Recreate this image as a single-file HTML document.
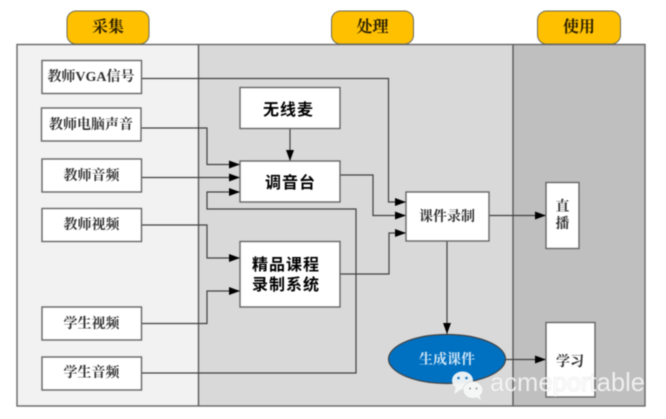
<!DOCTYPE html>
<html>
<head>
<meta charset="utf-8">
<style>
html,body{margin:0;padding:0;background:#fff;width:666px;height:419px;overflow:hidden}
svg{display:block;filter:blur(.45px)}
text{font-family:"Liberation Serif","Noto Serif CJK SC",serif;text-anchor:middle}
.b{fill:#fff;stroke:#666;stroke-width:1.4}
.l{fill:none;stroke:#404040;stroke-width:1.2}
.t{font-size:14px;fill:#333;font-weight:700}
.h{font-size:16px;fill:#000;font-weight:700;letter-spacing:1px;font-family:"Liberation Sans","Noto Sans CJK SC",sans-serif}
.p{font-size:16px;fill:#2b2000;font-weight:700}
</style>
</head>
<body>
<svg width="666" height="419" viewBox="0 0 666 419" xmlns="http://www.w3.org/2000/svg">
<defs>
<marker id="a" markerUnits="userSpaceOnUse" markerWidth="11" markerHeight="9" refX="11" refY="4.500" orient="auto"><path d="M0,0.500 L11,4.500 L0,8.500 Z" fill="#000"/></marker>
<marker id="v" markerUnits="userSpaceOnUse" markerWidth="11" markerHeight="11" refX="11" refY="5.500" orient="auto"><path d="M0,1.500 L11,5.500 L0,9.500 Z" fill="#000"/></marker>
</defs>
<rect x="17" y="44.500" width="181.500" height="361.500" fill="#f2f2f2"/>
<rect x="198.500" y="44.500" width="314.500" height="361.500" fill="#d9d9d9"/>
<rect x="513" y="44.500" width="132" height="361.500" fill="#bfbfbf"/>
<rect x="17" y="44.500" width="628" height="361.500" fill="none" stroke="#666" stroke-width="1.4"/>
<path d="M198.500,44.500V406M513,44.500V406" stroke="#595959" stroke-width="1.4" fill="none"/>

<rect x="67" y="11" width="82" height="33" rx="9" fill="#ffc000" stroke="#6b6b5a" stroke-width="1"/>
<rect x="331.500" y="11" width="82" height="33" rx="9" fill="#ffc000" stroke="#6b6b5a" stroke-width="1"/>
<rect x="537.500" y="11" width="83" height="33" rx="9" fill="#ffc000" stroke="#6b6b5a" stroke-width="1"/>
<text class="p" x="108" y="32">采集</text>
<text class="p" x="372.500" y="32">处理</text>
<text class="p" x="579" y="32">使用</text>

<path class="l" d="M141,78.500H388.500V202H406" marker-end="url(#a)"/>
<path class="l" d="M141,128H207V164.500H240" marker-end="url(#a)"/>
<path class="l" d="M141,177.500H240" marker-end="url(#a)"/>
<path class="l" d="M141,373H356V209H207V192H240" marker-end="url(#a)"/>
<path class="l" d="M340,175H373V215.500H406" marker-end="url(#a)"/>
<path class="l" d="M340,274H389V233H406" marker-end="url(#a)"/>
<path class="l" d="M141,225H207V258H240" marker-end="url(#a)"/>
<path class="l" d="M141,323.500H207V291H240" marker-end="url(#a)"/>
<path class="l" d="M290,128V161" marker-end="url(#v)"/>
<path class="l" d="M489,215.500H546" marker-end="url(#a)"/>
<path class="l" d="M447,241V334" marker-end="url(#v)"/>
<path class="l" d="M505,359.500H546" marker-end="url(#a)"/>

<rect class="b" x="42" y="60.500" width="99.500" height="33"/>
<rect class="b" x="41.500" y="108" width="99.500" height="33"/>
<rect class="b" x="42" y="159" width="99.500" height="33"/>
<rect class="b" x="42" y="208.500" width="99.500" height="33"/>
<rect class="b" x="42" y="307" width="99.500" height="33"/>
<rect class="b" x="42" y="357" width="99.500" height="33"/>
<text class="t" x="91" y="81">教师VGA信号</text>
<text class="t" x="91" y="129">教师电脑声音</text>
<text class="t" x="91.500" y="180">教师音频</text>
<text class="t" x="91.500" y="229">教师视频</text>
<text class="t" x="91.500" y="328">学生视频</text>
<text class="t" x="91.500" y="377">学生音频</text>

<rect class="b" x="240" y="87.500" width="100" height="41"/>
<rect class="b" x="240" y="161" width="100" height="41"/>
<rect class="b" x="240" y="241.500" width="100" height="65.500"/>
<rect class="b" x="406" y="192" width="83" height="49"/>
<rect class="b" x="546" y="182.500" width="33" height="66"/>
<rect class="b" x="546" y="322.500" width="49" height="74.500"/>
<text class="h" x="288.500" y="115">无线麦</text>
<text class="h" x="290.500" y="188">调音台</text>
<text class="h" x="286" y="270">精品课程</text>
<text class="h" x="286" y="290">录制系统</text>
<text class="t" x="447" y="221">课件录制</text>
<text class="t" x="562.500" y="211">直</text>
<text class="t" x="562.500" y="228">播</text>
<text class="t" x="570" y="366">学习</text>

<ellipse cx="447" cy="359" rx="58.500" ry="24.500" fill="#0070c0" stroke="#444" stroke-width="1.2"/>
<text class="t" x="447" y="364" style="fill:#cfe6f7">生成课件</text>

<ellipse cx="462.500" cy="380.500" rx="10.500" ry="9" fill="#f5f7f7" opacity=".95"/>
<path d="M456,387 L454,394 L463,388 Z" fill="#f5f7f7"/>
<circle cx="458.500" cy="378" r="1.300" fill="#1a7ac0"/>
<circle cx="466.500" cy="378" r="1.300" fill="#1a7ac0"/>
<ellipse cx="473" cy="390" rx="10" ry="8.500" fill="#f5f7f7" stroke="#ccc" stroke-width=".6"/>
<path d="M476,397 L481,400 L479,394 Z" fill="#f5f7f7"/>
<circle cx="470" cy="388.500" r="1" fill="#999"/>
<circle cx="476.500" cy="388.500" r="1" fill="#999"/>
<text x="567.500" y="391" style="font-family:'Liberation Sans',sans-serif;font-size:26px;fill:#ccc;fill-opacity:.25;stroke:#bbb;stroke-opacity:.3;stroke-width:1" textLength="155" lengthAdjust="spacingAndGlyphs">acmeportable</text>
<text x="567.500" y="391" style="font-family:'Liberation Sans',sans-serif;font-size:26px;fill:#fff;fill-opacity:.75" textLength="155" lengthAdjust="spacingAndGlyphs">acmeportable</text>
</svg>
</body>
</html>
